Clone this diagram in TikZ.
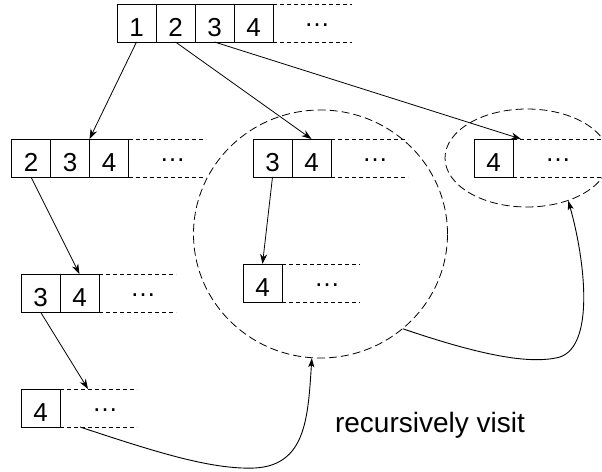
\documentclass[tikz,border=0pt]{standalone}
\usepackage{fontspec}
\setmainfont{Liberation Sans}
\usetikzlibrary{calc,arrows.meta,shapes.geometric}
\begin{document}
\begin{tikzpicture}[x=1pt,y=-1pt,
  cell/.style={draw, line width=0.8pt, minimum width=39pt, minimum height=38pt,
    inner sep=0pt, outer sep=0pt, anchor=north west,
    font=\fontsize{26}{26}\selectfont, text height=27.6pt, text depth=0pt},
  tail/.style={line width=0.8pt, dash pattern=on 4pt off 3pt},
  more/.style={inner sep=0pt, font=\fontsize{26}{26}\selectfont},
  link/.style={line width=0.8pt, -{Stealth[length=10pt,width=7pt]}},
  back/.style={line width=0.9pt, -{Stealth[length=9pt,width=6pt,inset=2pt]}},
  group/.style={draw, ellipse, dash pattern=on 8pt off 4pt, line width=0.8pt, inner sep=0pt},
]
\path[use as bounding box] (0,0) rectangle (602,471);
\clip (0,0) rectangle (602,471);

% full array 1 2 3 4 ...
\node[cell] (a1) at (117,4) {1};
\node[cell] (a2) at (a1.north east) {2};
\node[cell] (a3) at (a2.north east) {3};
\node[cell] (a4) at (a3.north east) {4};
\draw[tail] (a4.north east) -- ++(79,0);
\draw[tail] (a4.south east) -- ++(79,0);
\node[more] (ad) at ($(a4.east)+(44,2)$) {…};

% suffix starting at 2
\node[cell] (b2) at (11.5,139) {2};
\node[cell] (b3) at (b2.north east) {3};
\node[cell] (b4) at (b3.north east) {4};
\draw[tail] (b4.north east) -- ++(77,0);
\draw[tail] (b4.south east) -- ++(77,0);
\node[more] (bd) at ($(b4.east)+(44,2)$) {…};

% suffix starting at 3 (middle)
\node[cell] (m3) at (253,139) {3};
\node[cell] (m4) at (m3.north east) {4};
\draw[tail] (m4.north east) -- ++(77,0);
\draw[tail] (m4.south east) -- ++(77,0);
\node[more] (md) at ($(m4.east)+(44,2)$) {…};

% suffix starting at 4 (right)
\node[cell] (r4) at (474,139) {4};
\draw[tail] (r4.north east) -- ++(90,0);
\draw[tail] (r4.south east) -- ++(90,0);
\node[more] (rd) at ($(r4.east)+(45,2)$) {…};

% suffix 3 4 (left, third row)
\node[cell] (c3) at (21,274) {3};
\node[cell] (c4) at (c3.north east) {4};
\draw[tail] (c4.north east) -- ++(77,0);
\draw[tail] (c4.south east) -- ++(77,0);
\node[more] (cd) at ($(c4.east)+(44,2)$) {…};

% suffix 4 (inside the circle)
\node[cell] (n4) at (243,264) {4};
\draw[tail] (n4.north east) -- ++(78,0);
\draw[tail] (n4.south east) -- ++(78,0);
\node[more] (nd) at ($(n4.east)+(45,2)$) {…};

% suffix 4 (left, bottom row)
\node[cell] (d4) at (21,389) {4};
\draw[tail] (d4.north east) -- ++(77,0);
\draw[tail] (d4.south east) -- ++(77,0);
\node[more] (dd) at ($(d4.east)+(45,2)$) {…};

% dashed groups of repeated subproblems
\node[group, minimum width=254pt, minimum height=248pt] (big) at (320.5,234) {};
\node[group, minimum width=164pt, minimum height=98pt] (small) at (527,158) {};

% recursion edges
\draw[link] (a1.south) -- (b3.north east);
\draw[link] (a2.south) -- (m4.north);
\coordinate (rt) at ($(r4.north east)+(8,0)$);
\draw[link] (a3.south) -- (rt);
\draw[link] (b2.south) -- (c4.north);
\draw[link] (m3.south) -- (n4.north);
\coordinate (dt) at ($(d4.north east)+(28,0)$);
\draw[link] (c3.south) -- (dt);

% "visit again" connectors
\coordinate (ds) at ($(d4.south east)+(20,0)$);
\draw[back] (ds) .. controls (150,450) and (210,470) .. (255,468)
  .. controls (305,465) and (308,420) .. (big.266);
\draw[back] (big.-49) .. controls (480,355) and (530,365) .. (560,357)
  .. controls (595,345) and (585,260) .. (small.-46);

\node[font=\fontsize{28}{28}\selectfont, inner sep=0pt] (lbl) at (430,425) {recursively visit};
\end{tikzpicture}
\end{document}
